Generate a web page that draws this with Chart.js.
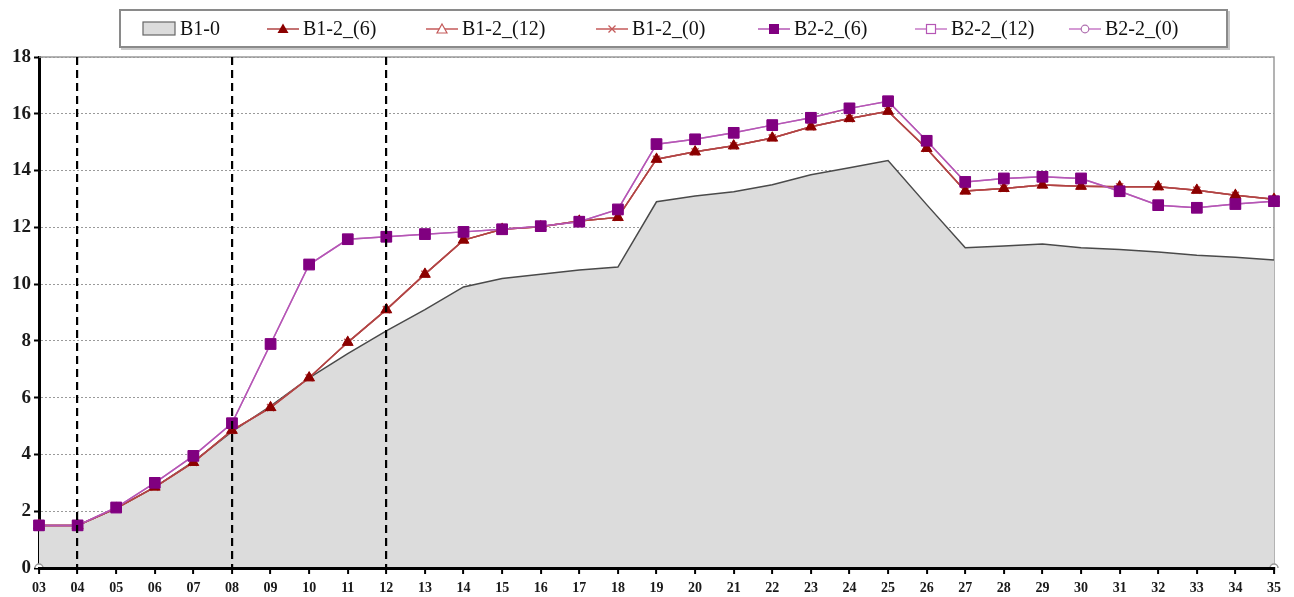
<!DOCTYPE html>
<html>
<head>
<meta charset="utf-8">
<script src="https://cdn.jsdelivr.net/npm/chart.js@4.4.1/dist/chart.umd.min.js"></script>
<style>
  html, body { margin: 0; padding: 0; background: #fff; }
  #wrap { position: relative; width: 1294px; height: 597px; overflow: hidden; }
  #chart { position: absolute; left: 0; top: 0; }
  #legend {
    position: absolute; left: 119px; top: 9px; width: 1105px; height: 35px;
    border: 2px solid #8a8a8a; box-shadow: 2px 2px 0 #c8c8c8; background: #fff;
    font-family: "Liberation Serif", "DejaVu Serif", serif; font-size: 20px; color: #111;
  }
  .item { position: absolute; top: 0; height: 35px; display: flex; align-items: center; white-space: nowrap; }
  .item svg { margin-right: 4px; flex: none; }
</style>
</head>
<body>
<div id="wrap">
  <canvas id="chart" width="1294" height="597"></canvas>
  <div id="legend"></div>
</div>
<script>
// Week labels along the x axis
const weeks = ['03','04','05','06','07','08','09','10','11','12','13','14','15','16','17','18','19',
               '20','21','22','23','24','25','26','27','28','29','30','31','32','33','34','35'];

// Baseline scenario (filled area)
const b1_0 = [1.5, 1.5, 2.1, 2.85, 3.75, 4.8, 5.7, 6.7, 7.55, 8.35, 9.1, 9.9, 10.2, 10.35, 10.5, 10.6,
              12.9, 13.1, 13.25, 13.5, 13.85, 14.1, 14.35, 12.8, 11.28, 11.34, 11.41, 11.28, 11.22,
              11.13, 11.02, 10.95, 10.85];

// B1-2 runs
const b1_2_6  = [1.5, 1.5, 2.1, 2.85, 3.72, 4.85, 5.65, 6.7, 7.95, 9.1, 10.35, 11.55, 11.93, 12.02, 12.22,
                 12.35, 14.4, 14.66, 14.87, 15.15, 15.54, 15.83, 16.09, 14.78, 13.28, 13.37, 13.49, 13.45,
                 13.43, 13.43, 13.31, 13.13, 12.99];
const b1_2_12 = [1.5, 1.5, 2.1, 2.85, 3.72, 4.85, 5.65, 6.7, 7.95, 9.1, 10.35, 11.55, 11.93, 12.02, 12.22,
                 12.35, 14.4, 14.66, 14.87, 15.15, 15.54, 15.83, 16.09, 14.78, 13.28, 13.37, 13.49, 13.45,
                 13.43, 13.43, 13.31, 13.13, 12.99];
const b1_2_0  = [1.5, 1.5, 2.1, 2.85, 3.72, 4.85, 5.65, 6.7, 7.95, 9.1, 10.35, 11.55, 11.93, 12.02, 12.22,
                 12.35, 14.4, 14.66, 14.87, 15.15, 15.54, 15.83, 16.09, 14.78, 13.28, 13.37, 13.49, 13.45,
                 13.43, 13.43, 13.31, 13.13, 12.99];

// B2-2 runs
const b2_2_6  = [1.5, 1.5, 2.13, 3.0, 3.95, 5.1, 7.89, 10.69, 11.58, 11.67, 11.76, 11.84, 11.93, 12.04, 12.2,
                 12.63, 14.93, 15.1, 15.33, 15.6, 15.86, 16.19, 16.44, 15.05, 13.6, 13.72, 13.78, 13.72,
                 13.27, 12.78, 12.69, 12.82, 12.92];
const b2_2_12 = [1.5, 1.5, 2.13, 3.0, 3.95, 5.1, 7.89, 10.69, 11.58, 11.67, 11.76, 11.84, 11.93, 12.04, 12.2,
                 12.63, 14.93, 15.1, 15.33, 15.6, 15.86, 16.19, 16.44, 15.05, 13.6, 13.72, 13.78, 13.72,
                 13.27, 12.78, 12.69, 12.82, 12.92];
const b2_2_0  = [0, null, null, null, null, null, null, null, null, null, null, null, null, null, null, null,
                 null, null, null, null, null, null, null, null, null, null, null, null, null, null, null,
                 null, 0];

// Weeks marked with a dashed vertical line
const markedWeeks = ['04', '08', '12'];

const yTicks = [0, 2, 4, 6, 8, 10, 12, 14, 16, 18];

const SERIF = '"Liberation Serif", "DejaVu Serif", serif';

// Gray frame on the top and right sides of the plot area
const frame = {
  id: 'frame',
  beforeDatasetsDraw(chart) {
    const { ctx, chartArea: a } = chart;
    ctx.save();
    ctx.strokeStyle = '#9a9a9a';
    ctx.lineWidth = 1.5;
    ctx.beginPath();
    ctx.moveTo(a.left, a.top);
    ctx.lineTo(a.right, a.top);
    ctx.lineTo(a.right, a.bottom);
    ctx.stroke();
    ctx.restore();
  }
};

const chart = new Chart(document.getElementById('chart'), {
  type: 'line',
  data: {
    labels: weeks,
    datasets: [
      { label: 'B2-2_(6)', data: b2_2_6, order: 1, borderColor: '#b556b5', borderWidth: 1.5,
        pointStyle: 'rect', pointRadius: 7.5, pointBackgroundColor: '#800080', pointBorderColor: '#800080',
        pointBorderWidth: 1, fill: false, tension: 0 },
      { label: 'B1-2_(6)', data: b1_2_6, order: 2, borderColor: '#b04444', borderWidth: 1.5,
        pointStyle: 'triangle', pointRadius: 6, pointBackgroundColor: '#8b0000', pointBorderColor: '#8b0000',
        pointBorderWidth: 1, fill: false, tension: 0 },
      { label: 'B2-2_(12)', data: b2_2_12, order: 3, borderColor: '#c77ac7', borderWidth: 1.5,
        pointStyle: 'rect', pointRadius: 7, pointBackgroundColor: '#fff', pointBorderColor: '#b556b5',
        fill: false, tension: 0 },
      { label: 'B1-2_(12)', data: b1_2_12, order: 4, borderColor: '#c45a5a', borderWidth: 1.5,
        pointStyle: 'triangle', pointRadius: 5.5, pointBackgroundColor: '#fff', pointBorderColor: '#c45a5a',
        fill: false, tension: 0 },
      { label: 'B1-2_(0)', data: b1_2_0, order: 5, borderColor: '#c45a5a', borderWidth: 1.5,
        pointStyle: 'crossRot', pointRadius: 5, pointBorderColor: '#c45a5a',
        fill: false, tension: 0 },
      { label: 'B2-2_(0)', data: b2_2_0, order: 6, borderColor: '#b070b0', borderWidth: 1.5,
        pointStyle: 'circle', pointRadius: 4, pointBackgroundColor: '#fff', pointBorderColor: '#9a9a9a',
        pointBorderWidth: 1.5, fill: false, spanGaps: false, tension: 0 },
      { label: 'B1-0', data: b1_0, order: 10, borderColor: '#4a4a4a', borderWidth: 1.5,
        backgroundColor: '#dcdcdc', fill: 'origin', pointRadius: 0, tension: 0 }
    ]
  },
  options: {
    responsive: false,
    animation: false,
    devicePixelRatio: 1,
    layout: { padding: { top: 57, right: 20, left: 0, bottom: 0 } },
    plugins: { legend: { display: false }, tooltip: { enabled: false } },
    scales: {
      x: {
        type: 'category',
        offset: false,
        afterFit(s) { s.height = 29; },
        grid: {
          z: 1,
          drawOnChartArea: true,
          color: c => markedWeeks.includes(weeks[c.index]) ? '#000' : 'rgba(0,0,0,0)',
          lineWidth: 2.2,
          tickColor: '#000',
          tickWidth: 2,
          tickLength: 6,
          tickBorderDash: []
        },
        border: { display: true, color: '#000', width: 3, dash: [8, 5], z: 1 },
        ticks: {
          autoSkip: false, maxRotation: 0, padding: 6, color: '#1a1a1a',
          font: { family: SERIF, size: 14, weight: 'bold' }
        }
      },
      y: {
        min: 0, max: 18,
        afterFit(s) { s.width = 39; },
        afterBuildTicks(s) { s.ticks = yTicks.map(v => ({ value: v })); },
        grid: {
          color: '#9a9a9a', lineWidth: 1,
          tickColor: '#000', tickWidth: 2, tickLength: 5, tickBorderDash: []
        },
        border: { display: true, color: '#000', width: 3, dash: [2, 2] },
        ticks: {
          padding: 3, color: '#1a1a1a',
          font: { family: SERIF, size: 19, weight: 'bold' }
        }
      }
    }
  },
  plugins: [frame]
});

// Legend row: icon + name for each series
const legendItems = [
  { name: 'B1-0', left: 21, icon: '<rect x="1" y="1" width="32" height="13" fill="#dcdcdc" stroke="#666" stroke-width="1.2"/>', h: 15, w: 34 },
  { name: 'B1-2_(6)', left: 146, icon: '<line x1="0" y1="8" x2="32" y2="8" stroke="#b04444" stroke-width="1.5"/><polygon points="16,2.5 21.5,12 10.5,12" fill="#8b0000"/>' },
  { name: 'B1-2_(12)', left: 305, icon: '<line x1="0" y1="8" x2="32" y2="8" stroke="#c45a5a" stroke-width="1.5"/><polygon points="16,3 21,12 11,12" fill="#fff" stroke="#c45a5a" stroke-width="1.2"/>' },
  { name: 'B1-2_(0)', left: 475, icon: '<line x1="0" y1="8" x2="32" y2="8" stroke="#c45a5a" stroke-width="1.5"/><path d="M12.5 4.5 L19.5 11.5 M19.5 4.5 L12.5 11.5" stroke="#c45a5a" stroke-width="1.3"/>' },
  { name: 'B2-2_(6)', left: 637, icon: '<line x1="0" y1="8" x2="32" y2="8" stroke="#b556b5" stroke-width="1.5"/><rect x="11" y="3" width="10" height="10" fill="#800080"/>' },
  { name: 'B2-2_(12)', left: 794, icon: '<line x1="0" y1="8" x2="32" y2="8" stroke="#c77ac7" stroke-width="1.5"/><rect x="11.5" y="3.5" width="9" height="9" fill="#fff" stroke="#b556b5" stroke-width="1.2"/>' },
  { name: 'B2-2_(0)', left: 948, icon: '<line x1="0" y1="8" x2="32" y2="8" stroke="#c77ac7" stroke-width="1.5"/><circle cx="16" cy="8" r="3.8" fill="#fff" stroke="#b070b0" stroke-width="1.2"/>' }
];
const legend = document.getElementById('legend');
legendItems.forEach(it => {
  const d = document.createElement('div');
  d.className = 'item';
  d.style.left = it.left + 'px';
  const w = it.w || 32, h = it.h || 16;
  d.innerHTML = '<svg width="' + w + '" height="' + h + '" viewBox="0 0 ' + w + ' ' + h + '">' + it.icon + '</svg><span>' + it.name + '</span>';
  legend.appendChild(d);
});
</script>
</body>
</html>
